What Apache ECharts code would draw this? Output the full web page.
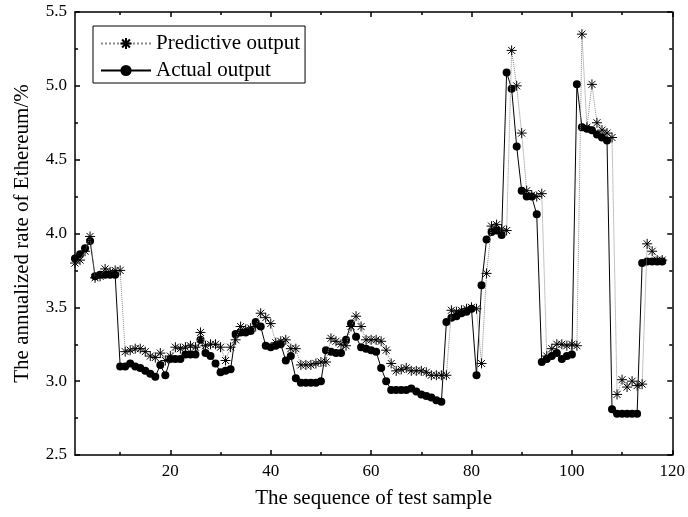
<!DOCTYPE html>
<html><head><meta charset="utf-8">
<script src="https://cdn.jsdelivr.net/npm/echarts@6/dist/echarts.min.js"></script>
<style>html,body{margin:0;padding:0;background:#fff}#c{width:688px;height:517px}</style>
</head><body><div id="c"></div>
<script>
// ---- data ----
const seriesNames = ['Predictive output', 'Actual output'];
const xTitle = 'The sequence of test sample';
const yTitle = 'The annualized rate of Ethereum/%';
const xTickValues = [20, 40, 60, 80, 100, 120];
const xMinorTickValues = [10, 30, 50, 70, 90, 110];

const predictive = [
  3.80, 3.82, 3.88, 3.98, 3.70, 3.71, 3.76, 3.74, 3.75, 3.75,
  3.20, 3.21, 3.22, 3.22, 3.20, 3.17, 3.16, 3.19, 3.14, 3.17,
  3.23, 3.22, 3.23, 3.24, 3.23, 3.33, 3.24, 3.25, 3.25, 3.23,
  3.14, 3.23, 3.28, 3.37, 3.35, 3.36, 3.37, 3.46, 3.43, 3.39,
  3.26, 3.27, 3.28, 3.22, 3.22, 3.11, 3.11, 3.11, 3.12, 3.13,
  3.13, 3.29, 3.27, 3.25, 3.24, 3.37, 3.44, 3.37, 3.28, 3.28,
  3.28, 3.27, 3.21, 3.12, 3.07, 3.08, 3.09, 3.07, 3.07, 3.07,
  3.06, 3.04, 3.04, 3.04, 3.04, 3.48, 3.47, 3.48, 3.49, 3.50,
  3.49, 3.12, 3.73, 4.05, 4.06, 4.03, 4.02, 5.24, 5.00, 4.68,
  4.29, 4.26, 4.25, 4.27, 3.17, 3.22, 3.25, 3.25, 3.24, 3.25,
  3.24, 5.35, 4.72, 5.01, 4.75, 4.70, 4.68, 4.65, 2.91, 3.01,
  2.96, 3.00, 2.97, 2.98, 3.93, 3.88, 3.82, 3.82
];
const actual = [
  3.83, 3.86, 3.90, 3.95, 3.71, 3.72, 3.72, 3.72, 3.72, 3.10,
  3.10, 3.12, 3.10, 3.09, 3.07, 3.05, 3.03, 3.11, 3.04, 3.15,
  3.15, 3.15, 3.18, 3.18, 3.18, 3.28, 3.19, 3.17, 3.12, 3.06,
  3.07, 3.08, 3.32, 3.33, 3.33, 3.34, 3.40, 3.37, 3.24, 3.23,
  3.24, 3.25, 3.14, 3.17, 3.02, 2.99, 2.99, 2.99, 2.99, 3.00,
  3.21, 3.20, 3.19, 3.19, 3.28, 3.39, 3.30, 3.23, 3.22, 3.21,
  3.20, 3.09, 3.00, 2.94, 2.94, 2.94, 2.94, 2.95, 2.93, 2.91,
  2.90, 2.89, 2.87, 2.86, 3.40, 3.43, 3.44, 3.46, 3.47, 3.49,
  3.04, 3.65, 3.96, 4.01, 4.02, 3.99, 5.09, 4.98, 4.59, 4.29,
  4.25, 4.25, 4.13, 3.13, 3.15, 3.17, 3.19, 3.15, 3.17, 3.18,
  5.01, 4.72, 4.71, 4.70, 4.67, 4.65, 4.63, 2.81, 2.78, 2.78,
  2.78, 2.78, 2.78, 3.80, 3.81, 3.81, 3.81, 3.81
];

// ---- chart ----
const FONT = 'Liberation Serif';
const toPairs = arr => arr.map((v, i) => [i + 1, v]);
const starPath = 'path://M0,-6L0,6M-6,0L6,0M-4.2,-4.2L4.2,4.2M-4.2,4.2L4.2,-4.2';
const axisLine = { show: true, lineStyle: { color: '#000', width: 1.5 } };

function xAx(pos, ticks, len, withLabel, withLine) {
  const a = {
    type: 'value', min: 1, max: 120, position: pos,
    axisLine: withLine ? axisLine : { show: false },
    axisTick: { show: true, inside: true, length: len, customValues: ticks, lineStyle: { color: '#000', width: 1.5 } },
    axisLabel: withLabel ? { show: true, customValues: ticks, color: '#000', fontFamily: FONT, fontSize: 17, margin: 8 } : { show: false },
    splitLine: { show: false }
  };
  if (withLabel) {
    a.name = xTitle; a.nameLocation = 'middle'; a.nameGap = 33;
    a.nameTextStyle = { color: '#000', fontFamily: FONT, fontSize: 21 };
  }
  return a;
}
function yAx(pos, withLabel) {
  const a = {
    type: 'value', min: 2.5, max: 5.5, interval: 0.5, position: pos,
    axisLine: axisLine,
    axisTick: { show: true, inside: true, length: 5, lineStyle: { color: '#000', width: 1.5 } },
    minorTick: { show: true, splitNumber: 2, length: 3, lineStyle: { color: '#000', width: 1.5 } },
    axisLabel: withLabel ? { show: true, color: '#000', fontFamily: FONT, fontSize: 17, margin: 8, formatter: v => v.toFixed(1) } : { show: false },
    splitLine: { show: false }
  };
  if (withLabel) {
    a.name = yTitle; a.nameLocation = 'middle'; a.nameGap = 42;
    a.nameTextStyle = { color: '#000', fontFamily: FONT, fontSize: 21 };
  }
  return a;
}

const chart = echarts.init(document.getElementById('c'), null, { renderer: 'canvas' });
chart.setOption({
  animation: false,
  backgroundColor: '#fff',
  grid: { left: 75, right: 15, top: 12, bottom: 62 },
  xAxis: [
    xAx('bottom', xTickValues, 5, true, true),
    xAx('top', xTickValues, 5, false, true),
    xAx('bottom', xMinorTickValues, 3, false, false),
    xAx('top', xMinorTickValues, 3, false, false)
  ],
  yAxis: [yAx('left', true), yAx('right', false)],
  legend: {
    data: seriesNames, orient: 'vertical', left: 93, top: 26,
    itemWidth: 50, itemHeight: 14, itemGap: 6,
    padding: [7, 5, 2, 7],
    borderColor: '#000', borderWidth: 1, backgroundColor: '#fff',
    textStyle: { color: '#000', fontFamily: FONT, fontSize: 21 }
  },
  series: [
    {
      name: seriesNames[1], type: 'line', data: toPairs(actual),
      symbol: 'circle', symbolSize: 8, z: 2,
      itemStyle: { color: '#000' },
      lineStyle: { color: '#000', width: 1 }
    },
    {
      name: seriesNames[0], type: 'line', data: toPairs(predictive),
      symbol: starPath, symbolSize: 10, z: 3,
      itemStyle: { color: '#000', borderColor: '#000', borderWidth: 1 },
      lineStyle: { color: '#888', width: 1, type: 'dotted' }
    }
  ]
});
</script>
</body></html>
